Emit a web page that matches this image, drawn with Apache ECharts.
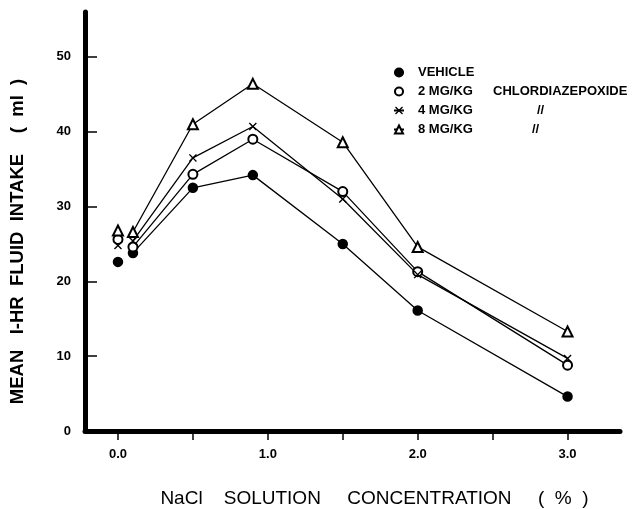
<!DOCTYPE html>
<html>
<head>
<meta charset="utf-8">
<script src="https://cdn.jsdelivr.net/npm/echarts@6/dist/echarts.min.js"></script>
<style>
  html, body { margin: 0; padding: 0; background: #fff; }
  #charts { width: 637px; height: 509px; }
</style>
</head>
<body>
<div id="charts"></div>
<script>
// NaCl concentration (%) and mean 1-hr intake (ml) per group
var concentration = [0.0, 0.1, 0.5, 0.9, 1.5, 2.0, 3.0];
var vehicle = [22.6, 23.8, 32.5, 34.2, 25.0, 16.1, 4.6];
var mg2 = [25.6, 24.6, 34.3, 39.0, 32.0, 21.3, 8.8];
var mg4 = [24.8, 25.4, 36.5, 40.7, 31.0, 20.9, 9.7];
var mg8 = [26.8, 26.6, 41.0, 46.4, 38.6, 24.6, 13.3];
var xTicks = [0, 0.5, 1.0, 1.5, 2.0, 2.5, 3.0];
var xLabels = [0, 1.0, 2.0, 3.0];
var yTicks = [0, 10, 20, 30, 40, 50];

var cross = 'path://M1.2,0L5,3.8L8.8,0L10,1.2L6.2,5L10,8.8L8.8,10L5,6.2L1.2,10L0,8.8L3.8,5L0,1.2Z';
var groups = [
  { name: 'VEHICLE', values: vehicle, symbol: 'circle', size: 9, note: '', noteStyle: 'b' },
  { name: '2 MG/KG', values: mg2, symbol: 'emptyCircle', size: 9, note: 'CHLORDIAZEPOXIDE', noteStyle: 'b' },
  { name: '4 MG/KG', values: mg4, symbol: cross, size: 8, note: '//', noteStyle: 'c' },
  { name: '8 MG/KG', values: mg8, symbol: 'emptyTriangle', size: 10, note: '//', noteStyle: 'd' }
];

var font = 'Liberation Sans, Arial, sans-serif';
var series = [];
groups.forEach(function (g) {
  var pts = concentration.map(function (c, i) { return [c, g.values[i]]; });
  var style = { color: '#000', borderColor: '#000', borderWidth: g.symbol === cross ? 0 : 1.5, opacity: 1 };
  // the 0.0 point stands alone, the line starts at 0.1
  series.push({
    name: g.name, type: 'line', data: pts.slice(1),
    symbol: g.symbol, symbolSize: g.size,
    lineStyle: { color: '#000', width: 1.3 },
    itemStyle: style,
    z: 3
  });
  series.push({
    name: g.name, type: 'scatter', data: pts.slice(0, 1),
    symbol: g.symbol, symbolSize: g.size,
    itemStyle: style,
    z: 3
  });
});

var legendText = { fontWeight: 'bold', fontSize: 13, fontFamily: font, color: '#000' };
var chart = echarts.init(document.getElementById('charts'));
var option = {
  backgroundColor: '#fff',
  animation: false,
  grid: { left: 85, right: 17, top: 12, bottom: 78, outerBoundsMode: 'none', containLabel: false },
  legend: {
    data: groups.map(function (g) { return g.name; }),
    orient: 'vertical',
    left: 388,
    top: 61,
    itemWidth: 10,
    itemHeight: 10,
    itemGap: 6,
    formatter: function (name) {
      var g = groups.filter(function (x) { return x.name === name; })[0];
      return '{a|' + name + '}{' + g.noteStyle + '|' + g.note + '}';
    },
    textStyle: {
      color: '#000',
      fontFamily: font,
      fontWeight: 'bold',
      fontSize: 13,
      rich: {
        a: Object.assign({ width: 75, padding: [0, 0, 0, 9] }, legendText),
        b: legendText,
        c: Object.assign({ padding: [0, 0, 0, 44] }, legendText),
        d: Object.assign({ padding: [0, 0, 0, 39] }, legendText)
      }
    }
  },
  xAxis: {
    type: 'value',
    min: -0.22,
    max: 3.35,
    name: 'NaCl    SOLUTION     CONCENTRATION     (  %  )',
    nameLocation: 'middle',
    nameGap: 58,
    nameTextStyle: { color: '#000', fontFamily: font, fontSize: 19, padding: [0, 0, 0, 44] },
    axisLine: { show: true, onZero: false, lineStyle: { color: '#000', width: 5 } },
    axisTick: { show: true, inside: false, length: 9, customValues: xTicks, lineStyle: { color: '#000', width: 1.5 } },
    axisLabel: {
      customValues: xLabels,
      color: '#000', fontFamily: font, fontWeight: 'bold', fontSize: 13, margin: 17,
      formatter: function (v) { return v.toFixed(1); }
    },
    splitLine: { show: false }
  },
  yAxis: {
    type: 'value',
    min: 0,
    max: 56,
    name: 'MEAN   I-HR  FLUID  INTAKE    (  ml  )',
    nameLocation: 'middle',
    nameGap: 58,
    nameTextStyle: { color: '#000', fontFamily: font, fontSize: 18.5, fontWeight: 'bold', padding: [0, 40, 0, 0] },
    axisLine: { show: true, onZero: false, lineStyle: { color: '#000', width: 5 } },
    axisTick: { show: true, inside: true, length: 12, customValues: yTicks, lineStyle: { color: '#000', width: 1.5 } },
    axisLabel: { customValues: yTicks, color: '#000', fontFamily: font, fontWeight: 'bold', fontSize: 13, margin: 14 },
    splitLine: { show: false }
  },
  series: series
};
option && chart.setOption(option);
</script>
</body>
</html>
